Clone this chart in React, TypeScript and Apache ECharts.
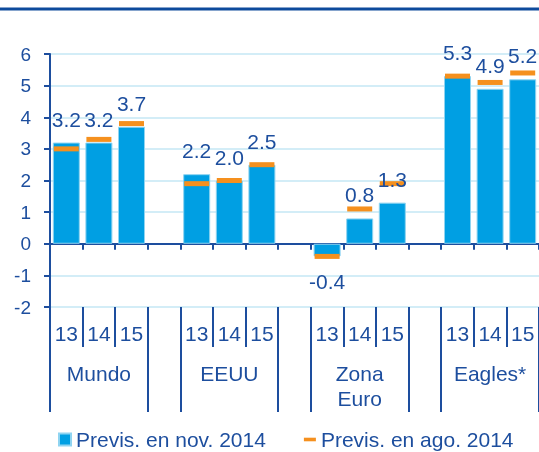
import React, { useEffect, useRef } from "react";
import * as echarts from "echarts";

const slots = ["M13", "M14", "M15", "g1", "E13", "E14", "E15", "g2", "Z13", "Z14", "Z15", "g3", "A13", "A14", "A15"];
const yearLabels = ["13", "14", "15", "", "13", "14", "15", "", "13", "14", "15", "", "13", "14", "15"];
const groupLabels = ["", "Mundo", "", "", "", "EEUU", "", "", "", "Zona\nEuro", "", "", "", "Eagles*", ""];
const groupBoundaryTicks = [0, 3, 4, 7, 8, 11, 12];
const novForecast: (number | string)[] = [3.2, 3.2, 3.7, "-", 2.2, 2.0, 2.5, "-", -0.4, 0.8, 1.3, "-", 5.3, 4.9, 5.2];
const augForecast: (number | string)[] = [3.0, 3.3, 3.8, "-", 1.9, 2.0, 2.5, "-", -0.4, 1.1, 1.9, "-", 5.3, 5.1, 5.4];
const seriesNames = ["Previs. en nov. 2014", "Previs. en ago. 2014"];

const DARK = "#1D4E9E";
const BLUE = "#009FE3";
const ORANGE = "#F5901E";
const GRID = "#C4E7F5";
const FONT = "'Liberation Sans', Arial, sans-serif";

export default function App() {
  const ref = useRef<HTMLDivElement>(null);
  useEffect(() => {
    if (!ref.current) return;
    const chart = echarts.init(ref.current, undefined, { renderer: "svg" });
    const labelData = novForecast.map((v) =>
      typeof v === "number" && v < 0
        ? { value: v, label: { position: "bottom", distance: 15 } }
        : v
    );
    chart.setOption({
      animation: false,
      textStyle: { fontFamily: FONT },
      graphic: [
        { type: "rect", shape: { x: 0, y: 7.5, width: 539, height: 3 }, style: { fill: "#0E4B9C" } },
      ],
      grid: { left: 50, right: 0, top: 54, bottom: 145, containLabel: false },
      legend: {
        left: 53,
        top: 424,
        itemWidth: 12,
        itemHeight: 12,
        itemGap: 38,
        textStyle: { fontSize: 21, color: DARK, fontFamily: FONT },
        data: [
          { name: seriesNames[0], icon: "rect" },
          { name: seriesNames[1], icon: "path://M0,0h10v3h-10z" },
        ],
      },
      xAxis: [
        {
          type: "category",
          data: slots,
          position: "bottom",
          axisLine: { onZero: true, lineStyle: { color: DARK, width: 2 } },
          axisTick: { show: true, length: 6, interval: 0, lineStyle: { color: DARK, width: 2 } },
          axisLabel: { show: false },
          splitLine: { show: false },
        },
        {
          type: "category",
          data: yearLabels,
          position: "bottom",
          axisLine: { show: false, onZero: false },
          axisTick: { show: true, length: 40, interval: 0, lineStyle: { color: DARK, width: 2 } },
          axisLabel: { show: true, interval: 0, fontSize: 21, color: DARK, margin: 16, fontFamily: FONT },
          splitLine: { show: false },
        },
        {
          type: "category",
          data: groupLabels,
          position: "bottom",
          axisLine: { show: false, onZero: false },
          axisTick: {
            show: true,
            length: 105,
            interval: (i: number) => groupBoundaryTicks.includes(i),
            lineStyle: { color: DARK, width: 2 },
          },
          axisLabel: { show: true, interval: 0, fontSize: 21, lineHeight: 25, color: DARK, margin: 54, fontFamily: FONT },
          splitLine: { show: false },
        },
      ],
      yAxis: {
        type: "value",
        min: -2,
        max: 6,
        interval: 1,
        axisLine: { show: true, lineStyle: { color: DARK, width: 2 } },
        axisTick: { show: true, length: 6, lineStyle: { color: DARK, width: 2 } },
        axisLabel: { fontSize: 19, color: DARK, margin: 19, fontFamily: FONT },
        splitLine: { show: true, lineStyle: { color: GRID, width: 1.5 } },
      },
      series: [
        {
          name: seriesNames[0],
          type: "bar",
          xAxisIndex: 0,
          data: novForecast,
          barWidth: 27,
          barGap: "-100%",
          z: 2,
          itemStyle: { color: BLUE, borderColor: "#8FD4F1", borderWidth: 1 },
        },
        {
          name: seriesNames[1],
          type: "scatter",
          xAxisIndex: 0,
          data: augForecast,
          symbol: "rect",
          symbolSize: [25, 5],
          z: 3,
          itemStyle: { color: ORANGE, opacity: 1 },
        },
        {
          name: "labels",
          type: "bar",
          xAxisIndex: 0,
          data: labelData,
          barWidth: 27,
          barGap: "-100%",
          z: 4,
          itemStyle: { color: "transparent", borderWidth: 0 },
          label: {
            show: true,
            position: "top",
            distance: 13,
            fontSize: 21,
            color: DARK,
            fontFamily: FONT,
            formatter: (p: any) => Number(p.value).toFixed(1),
          },
          silent: true,
        },
      ],
    });
    return () => chart.dispose();
  }, []);
  return <div ref={ref} style={{ position: "fixed", left: 0, top: 0, width: 539, height: 452 }} />;
}
